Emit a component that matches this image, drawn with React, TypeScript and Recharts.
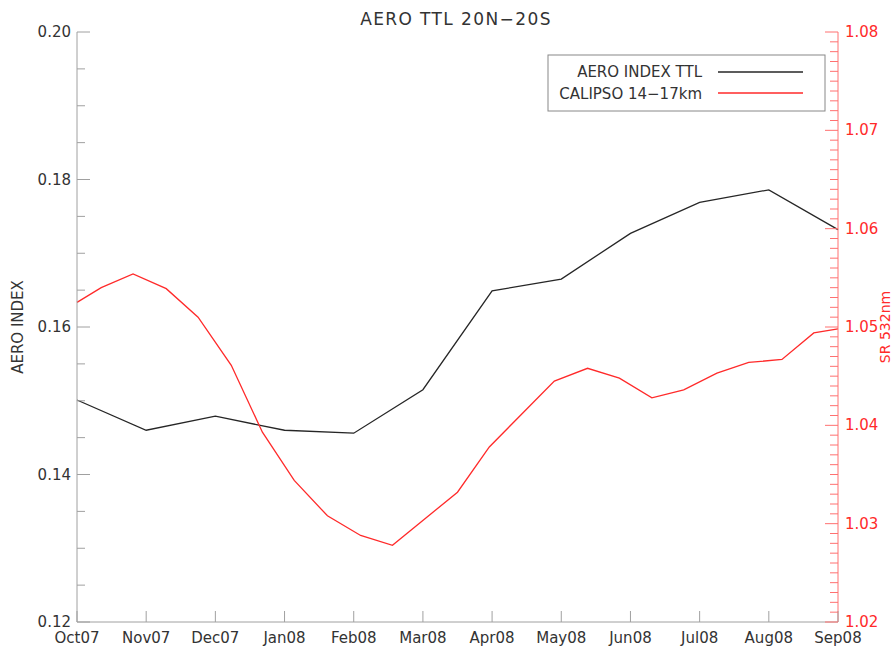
import React from 'react';
import { LineChart, Line, XAxis, YAxis } from 'recharts';

const months = ['Oct07', 'Nov07', 'Dec07', 'Jan08', 'Feb08', 'Mar08', 'Apr08', 'May08', 'Jun08', 'Jul08', 'Aug08', 'Sep08'];
const aeroIndex = [0.1501, 0.146, 0.1479, 0.146, 0.1456, 0.1515, 0.1649, 0.1665, 0.1727, 0.1769, 0.1786, 0.1732];

// calipso samples sit between month ticks: position in months since Oct07
const calipsoTime = [0, 0.35, 0.81, 1.29, 1.75, 2.23, 2.68, 3.14, 3.62, 4.1, 4.56, 5.5, 5.96, 6.9, 7.38, 7.84, 8.31, 8.77, 9.25, 9.71, 10.19, 10.65, 11];
const calipsoSR = [1.0525, 1.054, 1.0554, 1.0539, 1.051, 1.0461, 1.0393, 1.0344, 1.0308, 1.0288, 1.0278, 1.0332, 1.0378, 1.0445, 1.0458, 1.0448, 1.0428, 1.0436, 1.0453, 1.0464, 1.0467, 1.0494, 1.0498];

const leftLabels = [0.12, 0.14, 0.16, 0.18, 0.2];
const rightLabels = [1.02, 1.03, 1.04, 1.05, 1.06, 1.07, 1.08];

const aeroData = aeroIndex.map((v, i) => ({ m: i, v }));
const calipsoData = calipsoTime.map((m, i) => ({ m, v: calipsoSR[i] }));
const monthTicks = months.map((_, i) => i);

const leftTicks: number[] = [];
for (let k = 0; k <= 16; k++) leftTicks.push(+(0.12 + k * 0.005).toFixed(3));
const rightTicks: number[] = [];
for (let k = 0; k <= 60; k++) rightTicks.push(+(1.02 + k * 0.001).toFixed(3));

const isMajor = (list: number[], v: number) => list.some(l => Math.abs(l - v) < 1e-7);

const GRAY = '#a0a0a0';
const TEXT = '#333';
const RED = '#ff2a2a';
const RED_AXIS = '#ff7070';
const FONT = 'DejaVu Sans';

const BottomTick = (props: any) => {
    const { x, y, payload } = props;
    return (
        <g>
            <line x1={x} y1={y} x2={x} y2={y - 11} stroke={GRAY} />
            <text x={x} y={y + 21} textAnchor="middle" fontSize={15} fontFamily={FONT} fill={TEXT}>
                {months[payload.value]}
            </text>
        </g>
    );
};

const TopTick = (props: any) => {
    const { x, y } = props;
    return <line x1={x} y1={y} x2={x} y2={y + 11} stroke={GRAY} />;
};

const LeftTick = (props: any) => {
    const { x, y, payload } = props;
    const major = isMajor(leftLabels, payload.value);
    return (
        <g>
            <line x1={x} y1={y} x2={x + (major ? 13 : 8)} y2={y} stroke={GRAY} />
            {major && (
                <text x={x - 6} y={y + 5} textAnchor="end" fontSize={15} fontFamily={FONT} fill={TEXT}>
                    {payload.value.toFixed(2)}
                </text>
            )}
        </g>
    );
};

const RightTick = (props: any) => {
    const { x, y, payload } = props;
    const major = isMajor(rightLabels, payload.value);
    return (
        <g>
            <line x1={x} y1={y} x2={x - (major ? 13 : 8)} y2={y} stroke={RED_AXIS} />
            {major && (
                <text x={x + 7} y={y + 5} textAnchor="start" fontSize={15} fontFamily={FONT} fill={RED}>
                    {payload.value.toFixed(2)}
                </text>
            )}
        </g>
    );
};

export default function App() {
    return (
        <div style={{ position: 'absolute', left: 0, top: 0, width: 895, height: 647, background: '#fff' }}>
            <LineChart width={895} height={647} margin={{ top: 32, right: 0, bottom: 0, left: 0 }}>
                <XAxis
                    dataKey="m"
                    type="number"
                    domain={[0, 11]}
                    ticks={monthTicks}
                    interval={0}
                    height={25}
                    tickSize={0}
                    tickMargin={0}
                    tickLine={false}
                    axisLine={{ stroke: GRAY }}
                    tick={<BottomTick />}
                    allowDuplicatedCategory={false}
                />
                <XAxis
                    xAxisId="top"
                    orientation="top"
                    dataKey="m"
                    type="number"
                    domain={[0, 11]}
                    ticks={monthTicks}
                    interval={0}
                    height={0}
                    tickSize={0}
                    tickMargin={0}
                    tickLine={false}
                    axisLine={{ stroke: GRAY }}
                    tick={<TopTick />}
                />
                <YAxis
                    yAxisId="left"
                    type="number"
                    domain={[0.12, 0.2]}
                    ticks={leftTicks}
                    interval={0}
                    width={77}
                    tickSize={0}
                    tickMargin={0}
                    tickLine={false}
                    axisLine={{ stroke: GRAY }}
                    tick={<LeftTick />}
                />
                <YAxis
                    yAxisId="right"
                    orientation="right"
                    type="number"
                    domain={[1.02, 1.08]}
                    ticks={rightTicks}
                    interval={0}
                    width={57}
                    tickSize={0}
                    tickMargin={0}
                    tickLine={false}
                    axisLine={{ stroke: RED_AXIS }}
                    tick={<RightTick />}
                />
                <Line
                    yAxisId="left"
                    data={aeroData}
                    dataKey="v"
                    type="linear"
                    stroke="#262626"
                    strokeWidth={1.3}
                    dot={false}
                    isAnimationActive={false}
                />
                <Line
                    yAxisId="right"
                    data={calipsoData}
                    dataKey="v"
                    type="linear"
                    stroke={RED}
                    strokeWidth={1.3}
                    dot={false}
                    isAnimationActive={false}
                />
            </LineChart>
            <svg width={895} height={647} style={{ position: 'absolute', left: 0, top: 0, pointerEvents: 'none' }}>
                <text x={456} y={25} textAnchor="middle" fontSize={17} letterSpacing={1.4} fontFamily={FONT} fill={TEXT}>
                    AERO TTL 20N−20S
                </text>
                <text x={23} y={327} transform="rotate(-90 23 327)" textAnchor="middle" fontSize={15} fontFamily={FONT} fill={TEXT}>
                    AERO INDEX
                </text>
                <text x={890} y={327} transform="rotate(-90 890 327)" textAnchor="middle" fontSize={14} fontFamily={FONT} fill={RED}>
                    SR 532nm
                </text>
                <rect x={548} y={55} width={277} height={56} fill="#fff" stroke="#888" />
                <text x={702} y={77} textAnchor="end" fontSize={15} fontFamily={FONT} fill={TEXT}>AERO INDEX TTL</text>
                <line x1={718} y1={72} x2={803} y2={72} stroke="#262626" strokeWidth={1.3} />
                <text x={702} y={99} textAnchor="end" fontSize={15} fontFamily={FONT} fill={TEXT}>CALIPSO 14−17km</text>
                <line x1={718} y1={93} x2={803} y2={93} stroke={RED} strokeWidth={1.3} />
            </svg>
        </div>
    );
}
